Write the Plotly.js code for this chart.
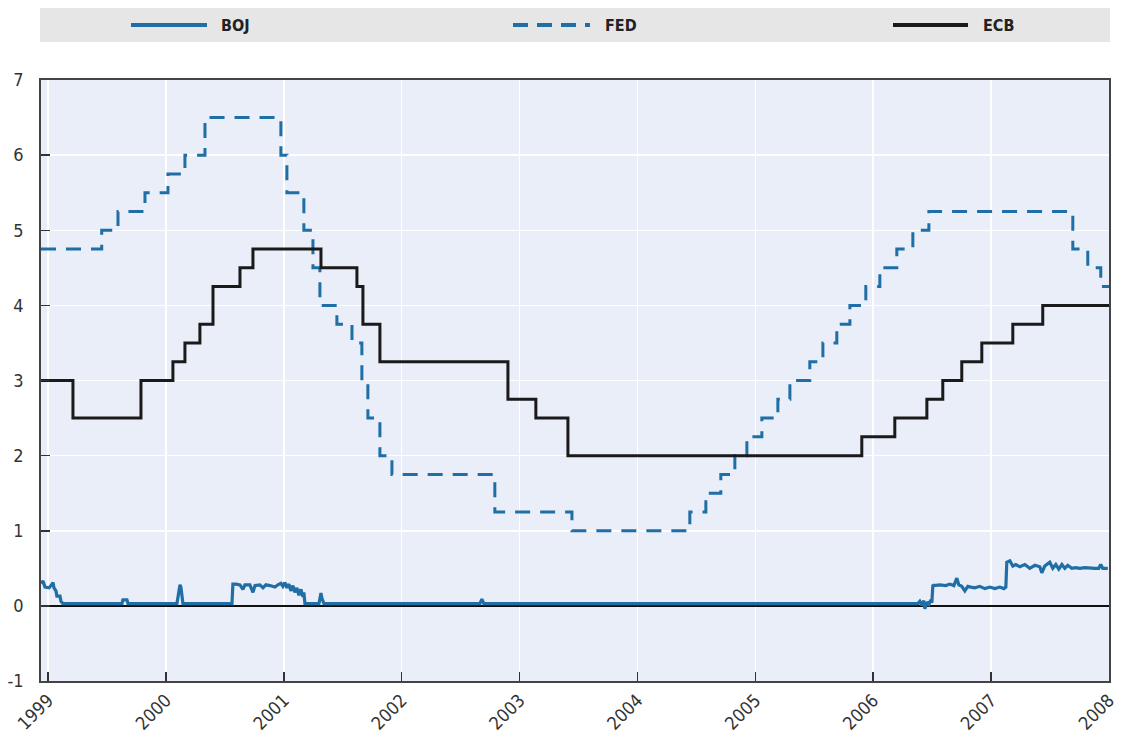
<!DOCTYPE html>
<html>
<head>
<meta charset="utf-8">
<script src="https://cdn.plot.ly/plotly-3.0.1.min.js"></script>
<style>html,body{margin:0;padding:0;background:#fff;}#chart{width:1123px;height:737px;}#chart text{font-stretch:condensed;}</style>
</head>
<body>
<div id="chart"></div>
<script>
// Decimal-year positions and policy-rate values
const seriesNames = ['BOJ', 'FED', 'ECB'];
const yearTicks = [1999, 2000, 2001, 2002, 2003, 2004, 2005, 2006, 2007, 2008];
const yearLabels = ['1999', '2000', '2001', '2002', '2003', '2004', '2005', '2006', '2007', '2008'];
const valueTicks = [-1, 0, 1, 2, 3, 4, 5, 6, 7];
const valueLabels = ['-1', '0', '1', '2', '3', '4', '5', '6', '7'];

const fedX = [1998.94, 1999.455, 1999.593, 1999.822, 2000.017, 2000.161, 2000.331, 2000.975, 2001.026, 2001.170,
  2001.247, 2001.306, 2001.450, 2001.578, 2001.662, 2001.713, 2001.815, 2001.917, 2002.790, 2003.444,
  2004.444, 2004.580, 2004.707, 2004.826, 2004.928, 2005.055, 2005.191, 2005.293, 2005.462, 2005.573,
  2005.691, 2005.802, 2005.937, 2006.056, 2006.200, 2006.336, 2006.472, 2007.693, 2007.820, 2007.930, 2008.0];
const fedY = [4.75, 5.00, 5.25, 5.50, 5.75, 6.00, 6.50, 6.00, 5.50, 5.00,
  4.50, 4.00, 3.75, 3.50, 3.00, 2.50, 2.00, 1.75, 1.25, 1.00,
  1.25, 1.50, 1.75, 2.00, 2.25, 2.50, 2.75, 3.00, 3.25, 3.50,
  3.75, 4.00, 4.25, 4.50, 4.75, 5.00, 5.25, 4.75, 4.50, 4.25, 4.25];

const ecbX = [1998.94, 1999.211, 1999.788, 2000.059, 2000.161, 2000.288, 2000.399, 2000.628, 2000.738, 2001.315,
  2001.620, 2001.671, 2001.815, 2002.901, 2003.138, 2003.410, 2005.903, 2006.183, 2006.455, 2006.590,
  2006.751, 2006.921, 2007.184, 2007.438, 2008.0];
const ecbY = [3.00, 2.50, 3.00, 3.25, 3.50, 3.75, 4.25, 4.50, 4.75, 4.50,
  4.25, 3.75, 3.25, 2.75, 2.50, 2.00, 2.25, 2.50, 2.75, 3.00,
  3.25, 3.50, 3.75, 4.00, 4.00];

const bojX = [1998.940, 1998.957, 1998.974, 1999.008, 1999.025, 1999.042, 1999.050, 1999.067, 1999.075, 1999.101, 1999.109, 1999.126,
  1999.627, 1999.635, 1999.669, 1999.678,
  2000.093, 2000.110, 2000.119, 2000.127, 2000.136, 2000.144,
  2000.560, 2000.568, 2000.594, 2000.628, 2000.653, 2000.670, 2000.712, 2000.738, 2000.755, 2000.797, 2000.823, 2000.848,
  2000.882, 2000.925, 2000.950, 2000.975, 2000.992, 2001.009, 2001.026, 2001.043, 2001.060, 2001.077, 2001.094, 2001.111,
  2001.128, 2001.145, 2001.162, 2001.170, 2001.179,
  2001.298, 2001.315, 2001.323, 2001.340,
  2002.663, 2002.680, 2002.697,
  2006.378, 2006.395, 2006.412, 2006.429, 2006.438, 2006.455, 2006.472, 2006.489, 2006.497, 2006.506, 2006.514, 2006.565,
  2006.616, 2006.650, 2006.684, 2006.709, 2006.726, 2006.751, 2006.777, 2006.802, 2006.828, 2006.862, 2006.904, 2006.947,
  2006.989, 2007.031, 2007.074, 2007.108, 2007.125, 2007.133, 2007.159, 2007.184, 2007.209, 2007.243, 2007.286, 2007.328,
  2007.371, 2007.413, 2007.430, 2007.455, 2007.498, 2007.523, 2007.549, 2007.574, 2007.600, 2007.625, 2007.650, 2007.684,
  2007.718, 2007.752, 2007.795, 2007.837, 2007.880, 2007.913, 2007.930, 2007.947, 2007.990];
const bojY = [0.30, 0.33, 0.25, 0.24, 0.27, 0.31, 0.24, 0.20, 0.13, 0.13, 0.06, 0.03,
  0.03, 0.08, 0.08, 0.03,
  0.03, 0.20, 0.28, 0.25, 0.10, 0.03,
  0.03, 0.29, 0.29, 0.28, 0.22, 0.28, 0.28, 0.18, 0.27, 0.28, 0.24, 0.28,
  0.27, 0.25, 0.28, 0.30, 0.26, 0.31, 0.24, 0.29, 0.20, 0.27, 0.18, 0.24,
  0.14, 0.22, 0.12, 0.18, 0.03,
  0.03, 0.17, 0.10, 0.03,
  0.03, 0.09, 0.03,
  0.03, 0.06, 0.01, 0.07, -0.04, 0.05, 0.02, 0.08, 0.04, 0.28, 0.27, 0.28,
  0.27, 0.29, 0.27, 0.37, 0.28, 0.26, 0.20, 0.26, 0.25, 0.24, 0.26, 0.23,
  0.25, 0.23, 0.25, 0.23, 0.25, 0.58, 0.60, 0.53, 0.55, 0.52, 0.55, 0.50,
  0.54, 0.52, 0.44, 0.53, 0.58, 0.50, 0.55, 0.49, 0.55, 0.50, 0.54, 0.50,
  0.51, 0.50, 0.51, 0.50, 0.50, 0.50, 0.55, 0.50, 0.50];

const blue = '#1f6ea6';
const dark = '#1a1a1a';
const fam = 'DejaVu Sans Condensed, DejaVu Sans, sans-serif';
const tickFont = {family: fam, size: 18, color: '#333333'};
const legFont = {family: fam, size: 16, color: '#222222', weight: 'bold'};

const traces = [
  {x: bojX, y: bojY, name: seriesNames[0], type: 'scatter', mode: 'lines', line: {color: blue, width: 3.2, shape: 'linear'}},
  {x: fedX, y: fedY, name: seriesNames[1], type: 'scatter', mode: 'lines', line: {color: blue, width: 3, shape: 'hv', dash: '15px,10px'}},
  {x: ecbX, y: ecbY, name: seriesNames[2], type: 'scatter', mode: 'lines', line: {color: dark, width: 3, shape: 'hv'}}
];

// custom legend band (paper coordinates); plot area spans x 41..1109, y 80..681 px
const W = 1068, H = 601;
const px = v => (v - 41) / W;
const py = v => (681 - v) / H;
const shapes = [
  {type: 'rect', xref: 'paper', yref: 'paper', x0: px(40), x1: px(1110), y0: py(42), y1: py(8), fillcolor: '#e6e6e6', line: {width: 0}, layer: 'below'},
  {type: 'line', xref: 'paper', yref: 'paper', x0: px(131), x1: px(207), y0: py(25), y1: py(25), line: {color: blue, width: 4}},
  {type: 'line', xref: 'paper', yref: 'paper', x0: px(513), x1: px(590), y0: py(25), y1: py(25), line: {color: blue, width: 4, dash: '15px,9px'}},
  {type: 'line', xref: 'paper', yref: 'paper', x0: px(893), x1: px(968), y0: py(25), y1: py(25), line: {color: dark, width: 4}}
];
const legendX = [219, 603, 981];
const annotations = seriesNames.map((n, i) => ({
  xref: 'paper', yref: 'paper', x: px(legendX[i]), y: py(25), xanchor: 'left', yanchor: 'middle',
  text: '<b>' + n + '</b>', showarrow: false, font: legFont
}));

const layout = {
  width: 1123, height: 737,
  margin: {l: 41, r: 14, t: 80, b: 56, pad: 0},
  paper_bgcolor: '#ffffff',
  plot_bgcolor: '#e9eef8',
  showlegend: false,
  xaxis: {
    type: 'linear', range: [1998.94, 2008.0],
    tickmode: 'array', tickvals: yearTicks, ticktext: yearLabels, tickangle: -45,
    ticks: 'inside', ticklen: 9, tickwidth: 1.5, tickcolor: '#333333',
    showgrid: true, gridcolor: '#ffffff', gridwidth: 1.5,
    showline: true, linecolor: '#444444', linewidth: 1.8, mirror: true,
    zeroline: false, tickfont: tickFont, automargin: false
  },
  yaxis: {
    range: [-1, 7], tickmode: 'array', tickvals: valueTicks, ticktext: valueLabels,
    ticks: 'inside', ticklen: 9, tickwidth: 1.5, tickcolor: '#333333', ticklabelstandoff: 12,
    showgrid: true, gridcolor: '#ffffff', gridwidth: 1.5,
    showline: true, linecolor: '#444444', linewidth: 1.8, mirror: true,
    zeroline: true, zerolinecolor: '#111111', zerolinewidth: 1.5,
    tickfont: tickFont, automargin: false
  },
  shapes: shapes,
  annotations: annotations
};

Plotly.newPlot('chart', traces, layout, {staticPlot: true, displayModeBar: false});
</script>
</body>
</html>
